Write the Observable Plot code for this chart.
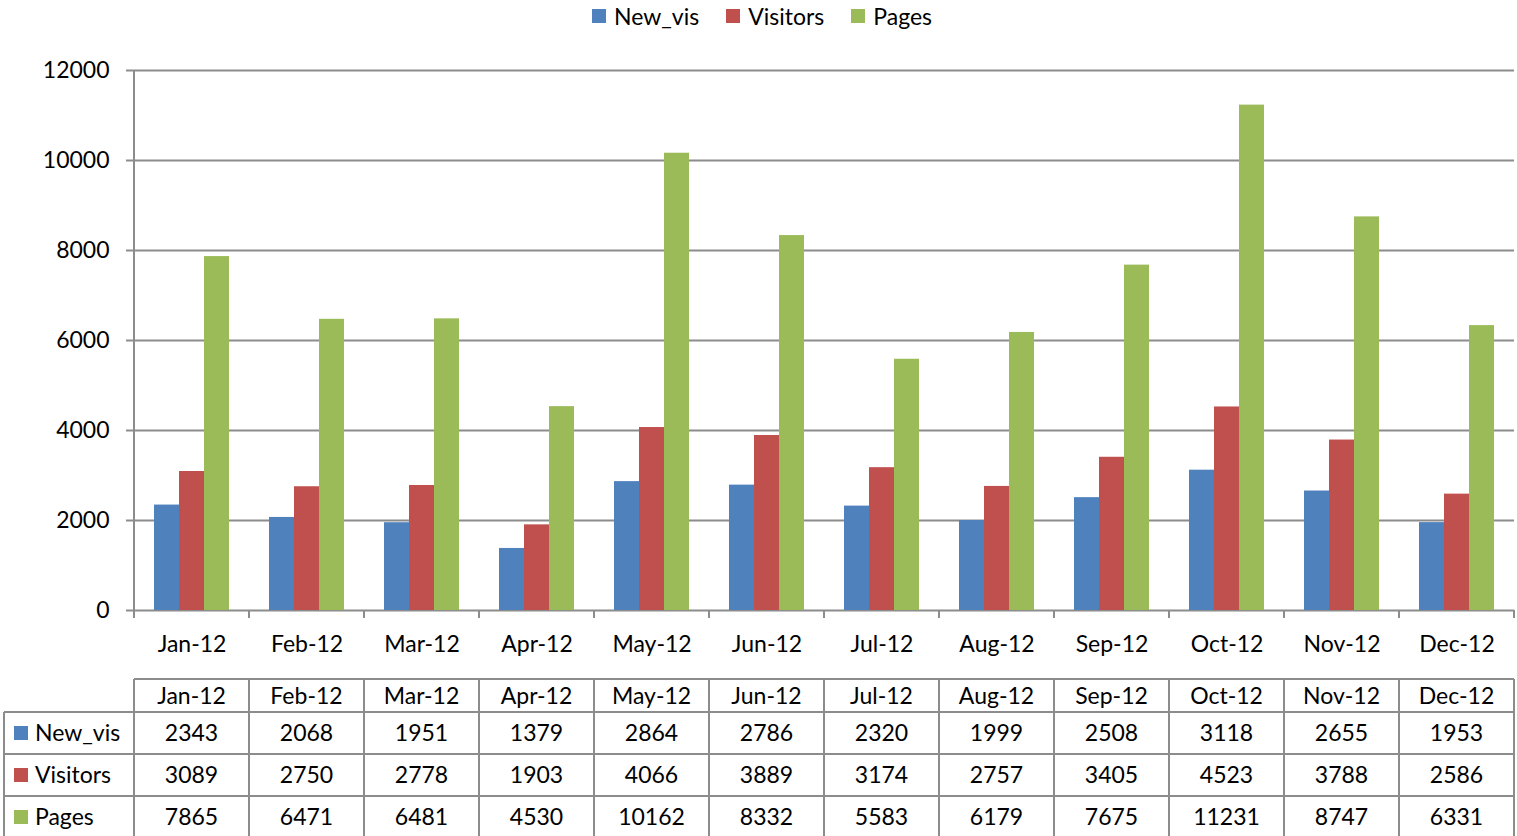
<!DOCTYPE html>
<html>
<head>
<meta charset="utf-8">
<script src="https://cdn.jsdelivr.net/npm/d3@7"></script>
<script src="https://cdn.jsdelivr.net/npm/@observablehq/plot@0.6"></script>
<style>
  html, body { margin: 0; padding: 0; background: #fff; }
  #wrap { position: relative; width: 1517px; height: 836px; overflow: hidden; font-family: Lato, "Open Sans", sans-serif; }
  #legend { position: absolute; top: 2px; left: 592px; display: flex; align-items: center; font-size: 23px; color: #000; line-height: 28px; }
  #legend .item { display: flex; align-items: center; margin-right: 27px; }
  #legend .sw { width: 14px; height: 14px; margin-right: 8px; }
</style>
</head>
<body>
<div id="wrap"><div id="legend"></div></div>
<script>
const months = ["Jan-12","Feb-12","Mar-12","Apr-12","May-12","Jun-12","Jul-12","Aug-12","Sep-12","Oct-12","Nov-12","Dec-12"];
const seriesNames = ["New_vis","Visitors","Pages"];
const newVis   = [2343, 2068, 1951, 1379, 2864, 2786, 2320, 1999, 2508, 3118, 2655, 1953];
const visitors = [3089, 2750, 2778, 1903, 4066, 3889, 3174, 2757, 3405, 4523, 3788, 2586];
const pages    = [7865, 6471, 6481, 4530, 10162, 8332, 5583, 6179, 7675, 11231, 8747, 6331];
const seriesColors = ["#4f81bd", "#c0504d", "#9bbb59"];
const yTicks = [0, 2000, 4000, 6000, 8000, 10000, 12000];

const seriesValues = [newVis, visitors, pages];
const data = months.flatMap((m, i) => seriesNames.map((s, j) => ({month: m, series: s, value: seriesValues[j][i]})));

const gray = "#8c8c8c";
const W = 1517, H = 836;

const plot = Plot.plot({
  width: W, height: H,
  marginLeft: 133, marginRight: 2, marginTop: 70, marginBottom: 226,
  style: {fontFamily: "Lato, 'Open Sans', sans-serif", fontSize: "23px", color: "#000", background: "transparent", overflow: "visible"},
  fx: {domain: months, padding: 0, label: null, axis: null},
  x: {domain: seriesNames, paddingInner: 0, paddingOuter: 0.75, axis: null},
  y: {domain: [0, 12000], axis: null},
  color: {domain: seriesNames, range: seriesColors},
  marks: [
    Plot.ruleY(yTicks, {stroke: gray, strokeWidth: 2}),
    Plot.barY(data, {fx: "month", x: "series", y: "value", fill: "series"}),
    Plot.axisY({ticks: yTicks, tickSize: 8, tickPadding: 17, stroke: gray, strokeWidth: 2, tickFormat: d => String(d), label: null, fill: "#000"}),
    Plot.axisFx({anchor: "bottom", tickSize: 0, tickPadding: 25, label: null, fill: "#000"})
  ]
});

document.getElementById("wrap").appendChild(plot);

// axis line, category boundary ticks and data table, positioned with the plot's scales
const fx = plot.scale("fx");
const y = plot.scale("y");
const svg = d3.select(plot);
const bw = fx.bandwidth;
const bounds = months.map(m => fx.apply(m)).concat([fx.apply(months[months.length - 1]) + bw]);
const y0 = y.apply(0), yTop = y.apply(12000);
const g = svg.append("g");

// y axis line
g.append("line").attr("x1", bounds[0]).attr("x2", bounds[0]).attr("y1", yTop).attr("y2", y0 + 8)
  .attr("stroke", gray).attr("stroke-width", 2);
// category boundary ticks
g.selectAll(".ct").data(bounds.slice(1)).join("line")
  .attr("x1", d => d).attr("x2", d => d).attr("y1", y0).attr("y2", y0 + 8)
  .attr("stroke", gray).attr("stroke-width", 2);

// data table
const tTop = 679, tHead = 712, rowH = 42, tLeft = 4;
const rowTops = [tHead, tHead + rowH, tHead + 2 * rowH];
const tg = svg.append("g").attr("font-family", "Lato, 'Open Sans', sans-serif").attr("font-size", 23).attr("fill", "#000");
const xEnd = bounds[bounds.length - 1];
// horizontal lines
tg.append("line").attr("x1", bounds[0]).attr("x2", xEnd).attr("y1", tTop).attr("y2", tTop).attr("stroke", gray).attr("stroke-width", 2);
rowTops.forEach(t => tg.append("line").attr("x1", tLeft).attr("x2", xEnd).attr("y1", t).attr("y2", t).attr("stroke", gray).attr("stroke-width", 2));
tg.append("line").attr("x1", tLeft).attr("x2", xEnd).attr("y1", tHead + 3 * rowH).attr("y2", tHead + 3 * rowH).attr("stroke", gray).attr("stroke-width", 2);
// vertical lines
bounds.forEach(b => tg.append("line").attr("x1", b).attr("x2", b).attr("y1", tTop).attr("y2", H + 2).attr("stroke", gray).attr("stroke-width", 2));
tg.append("line").attr("x1", tLeft).attr("x2", tLeft).attr("y1", tHead).attr("y2", H + 2).attr("stroke", gray).attr("stroke-width", 2);
// header
months.forEach(m => tg.append("text").attr("x", fx.apply(m) + bw / 2).attr("y", (tTop + tHead) / 2).attr("dy", "0.35em").attr("text-anchor", "middle").text(m));
// rows
seriesNames.forEach((s, j) => {
  const cy = rowTops[j] + rowH / 2;
  tg.append("rect").attr("x", 14).attr("y", cy - 7).attr("width", 14).attr("height", 14).attr("fill", seriesColors[j]);
  tg.append("text").attr("x", 35).attr("y", cy).attr("dy", "0.35em").attr("text-anchor", "start").text(s);
  months.forEach((m, i) => tg.append("text").attr("x", fx.apply(m) + bw / 2).attr("y", cy).attr("dy", "0.35em").attr("text-anchor", "middle").text(seriesValues[j][i]));
});

// legend
const legend = d3.select("#legend");
seriesNames.forEach((s, j) => {
  const it = legend.append("div").attr("class", "item");
  it.append("div").attr("class", "sw").style("background", seriesColors[j]);
  it.append("span").text(s);
});
</script>
</body>
</html>
